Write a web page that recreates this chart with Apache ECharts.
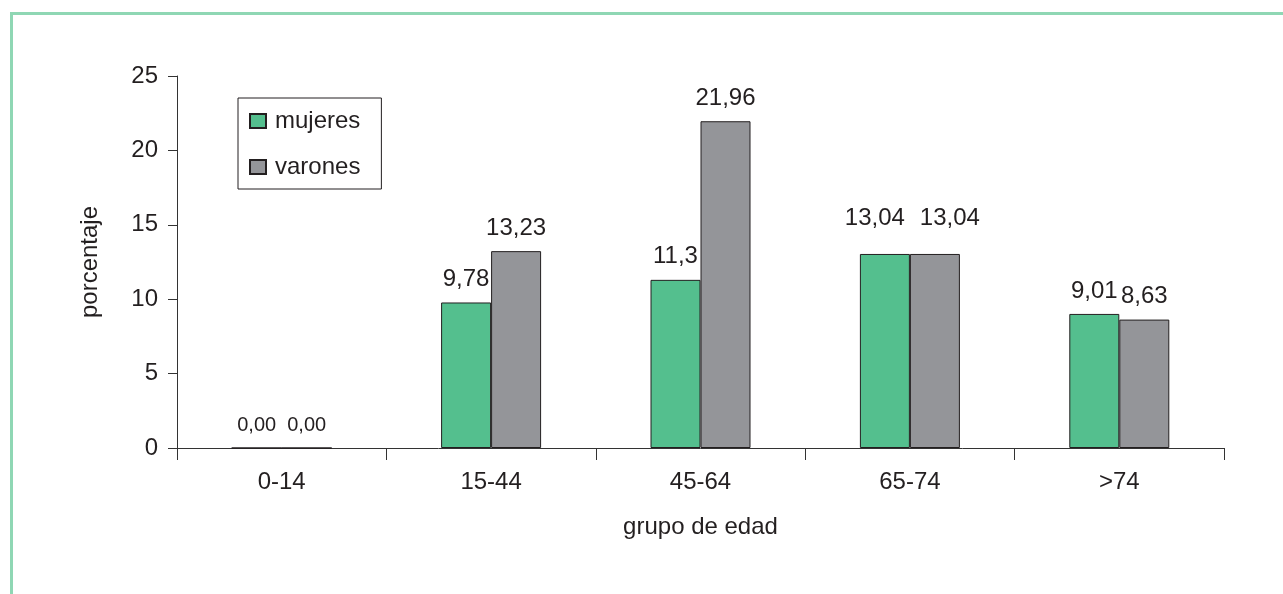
<!DOCTYPE html>
<html>
<head>
<meta charset="utf-8">
<title>porcentaje por grupo de edad</title>
<script src="https://cdn.jsdelivr.net/npm/echarts@6/dist/echarts.min.js"></script>
<style>
  html, body { margin: 0; padding: 0; background: #ffffff; }
  #chart { width: 1283px; height: 594px; }
</style>
</head>
<body>
<div id="chart"></div>
<script>
// Age groups and percentages by sex
const categories = ['0-14', '15-44', '45-64', '65-74', '>74'];
const mujeres = [0, 9.78, 11.3, 13.04, 9.01];
const varones = [0, 13.23, 21.96, 13.04, 8.63];
const yTicks = { min: 0, max: 25, interval: 5 };

const FONT = "'Liberation Sans', Arial, Helvetica, sans-serif";
const TEXT = '#231f20';
const FS = 24;

// Decimal comma; an empty group is written with two decimals
function fmt(v) {
  return v === 0 ? '0,00' : String(v).replace('.', ',');
}

// Labels of the 65-74 pair sit a little higher and spread apart
const pairNudge = { '65-74': { mujeres: [-10, -13], varones: [15, -13] } };

function seriesData(values, key) {
  return values.map((v, i) => {
    const n = pairNudge[categories[i]];
    const item = { value: v };
    if (n) item.label = { offset: n[key] };
    // empty groups get a smaller label
    if (v === 0) item.label = { fontSize: 20, distance: 12 };
    return item;
  });
}

const barLabel = {
  show: true,
  position: 'top',
  distance: 11,
  fontFamily: FONT,
  fontSize: FS,
  color: TEXT,
  formatter: p => fmt(p.value)
};

const chart = echarts.init(document.getElementById('chart'), null, { renderer: 'canvas' });

chart.setOption({
  backgroundColor: '#ffffff',
  animation: false,
  textStyle: { fontFamily: FONT },
  graphic: [{
    type: 'polyline',
    shape: { points: [[11.5, 594], [11.5, 13.5], [1283, 13.5]] },
    style: { stroke: '#8fd7b4', lineWidth: 3, fill: null },
    silent: true
  }],
  grid: { left: 177, right: 59, top: 76, bottom: 146, containLabel: false, outerBoundsMode: 'none' },
  legend: {
    orient: 'vertical',
    left: 238,
    top: 98,
    padding: [11, 21, 10, 11],
    itemGap: 22,
    itemWidth: 16,
    itemHeight: 14,
    borderColor: '#231f20',
    borderWidth: 1,
    icon: 'rect',
    textStyle: { fontFamily: FONT, fontSize: FS, color: TEXT, padding: [0, 0, 0, 4] },
    data: ['mujeres', 'varones']
  },
  xAxis: {
    type: 'category',
    data: categories,
    name: 'grupo de edad',
    nameLocation: 'middle',
    nameGap: 67,
    nameTextStyle: { fontFamily: FONT, fontSize: FS, color: TEXT },
    axisLine: { show: true, lineStyle: { color: '#333333', width: 1 } },
    axisTick: { show: true, length: 12, alignWithLabel: false, lineStyle: { color: '#333333' } },
    axisLabel: { fontFamily: FONT, fontSize: FS, color: TEXT, margin: 22 },
    splitLine: { show: false }
  },
  yAxis: {
    type: 'value',
    min: yTicks.min,
    max: yTicks.max,
    interval: yTicks.interval,
    name: 'porcentaje',
    nameLocation: 'middle',
    nameGap: 75,
    nameRotate: 90,
    nameTextStyle: { fontFamily: FONT, fontSize: FS, color: TEXT },
    axisLine: { show: true, lineStyle: { color: '#333333', width: 1 } },
    axisTick: { show: true, length: 9, lineStyle: { color: '#333333' } },
    axisLabel: { fontFamily: FONT, fontSize: FS, color: TEXT, margin: 19 },
    splitLine: { show: false }
  },
  series: [
    {
      name: 'mujeres',
      type: 'bar',
      barWidth: 50,
      barGap: '0%',
      data: seriesData(mujeres, 'mujeres'),
      itemStyle: { color: '#54bf8e', borderColor: '#231f20', borderWidth: 1 },
      label: barLabel
    },
    {
      name: 'varones',
      type: 'bar',
      barWidth: 50,
      barGap: '0%',
      data: seriesData(varones, 'varones'),
      itemStyle: { color: '#949599', borderColor: '#231f20', borderWidth: 1 },
      label: barLabel
    }
  ]
});
</script>
</body>
</html>
